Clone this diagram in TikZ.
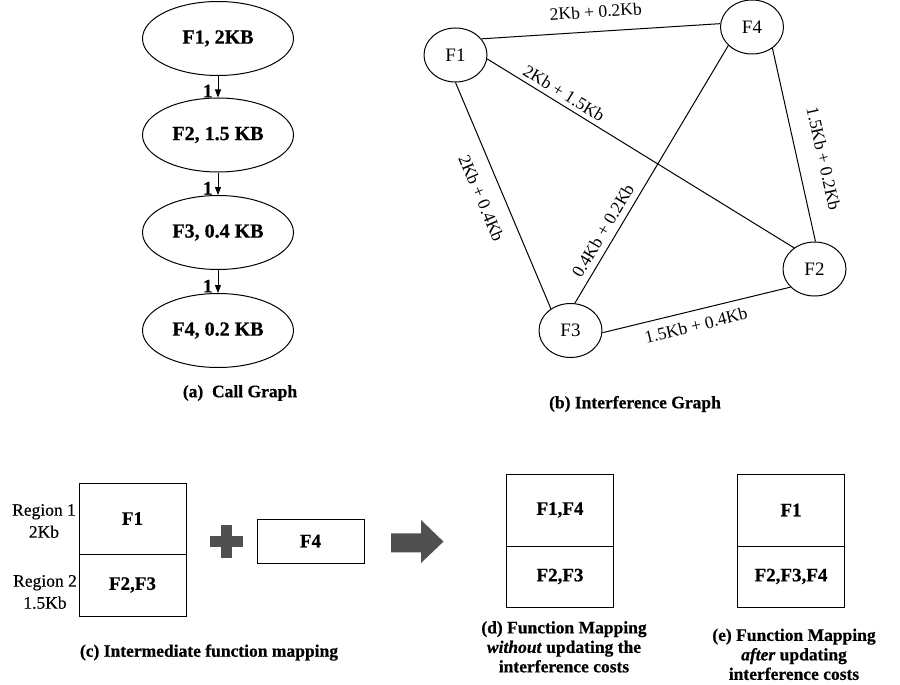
\documentclass[tikz,border=0pt]{standalone}
\usepackage{fontspec}
\setmainfont{Liberation Serif}
\newfontfamily\heavyfont{Liberation Serif}[UprightFont=* Bold, ItalicFont=* Bold Italic, BoldFont=* Bold, BoldItalicFont=* Bold Italic, FakeBold=0.6]
\newfontfamily\mediumfont{Liberation Serif}[FakeBold=0.35]
\usetikzlibrary{shapes.geometric,arrows.meta}
\definecolor{darkfill}{HTML}{505050}
\begin{document}
\begin{tikzpicture}[x=1pt,y=-1pt,
  cg/.style={ellipse,draw,line width=1pt,minimum width=151pt,minimum height=74pt,inner sep=0pt,font=\fontsize{20}{22}\heavyfont},
  ig/.style={ellipse,draw,line width=1pt,minimum width=63pt,minimum height=54pt,inner sep=0pt,font=\fontsize{19}{22}\selectfont},
  callarrow/.style={line width=1pt,-{Triangle[length=8pt,width=6pt]}},
  clab/.style={inner sep=0pt,font=\fontsize{19}{22}\heavyfont},
  iedge/.style={line width=1pt},
  elab/.style={sloped,inner sep=0pt,font=\fontsize{17.5}{20}\selectfont},
  captext/.style={font=\fontsize{17.5}{19.5}\heavyfont,align=center,inner sep=0pt},
  reglab/.style={font=\fontsize{17.5}{22}\mediumfont,align=center,inner sep=0pt},
  cell/.style={draw,line width=1pt,minimum width=107pt,inner sep=0pt,font=\fontsize{19}{22}\heavyfont},
  shapefill/.style={fill=darkfill}
]
\useasboundingbox (0,0) rectangle (900,685);

% (a) call graph
\node[cg] (c1) at (218,38.5) {F1, 2KB};
\node[cg] (c2) at (218,135) {F2, 1.5 KB};
\node[cg] (c3) at (218,232.5) {F3, 0.4 KB};
\node[cg] (c4) at (218,330.5) {F4, 0.2 KB};
\draw[callarrow] (c1.south) -- node[clab,pos=0.7,left=5pt] {1} (c2.north);
\draw[callarrow] (c2.south) -- node[clab,pos=0.7,left=5pt] {1} (c3.north);
\draw[callarrow] (c3.south) -- node[clab,pos=0.7,left=5pt] {1} (c4.north);
\node[captext] (capa) at (240,393) {(a)\ \ Call Graph};

% (b) interference graph
\node[ig] (g1) at (455.5,55) {F1};
\node[ig] (g4) at (752,27) {F4};
\node[ig] (g2) at (814.5,269) {F2};
\node[ig] (g3) at (570.5,330.5) {F3};
\draw[iedge] (g1.32) -- node[elab,pos=0.484,yshift=20pt] {2Kb + 0.2Kb} (g4.174);
\draw[iedge] (g1.353) -- node[elab,pos=0.232,yshift=11pt] {2Kb + 1.5Kb} (g2.134);
\draw[iedge] (g1.270) -- node[elab,pos=0.475,yshift=-21pt] {2Kb + 0.4Kb} (g3.132);
\draw[iedge] (g3.81) -- node[elab,pos=0.256,yshift=13pt] {0.4Kb + 0.2Kb} (g4.218);
\draw[iedge] (g4.314) -- node[elab,pos=0.6,yshift=26pt] {1.5Kb + 0.2Kb} (g2.88);
\draw[iedge] (g3.356) -- node[elab,pos=0.479,yshift=-15pt] {1.5Kb + 0.4Kb} (g2.217);
\node[captext] (capb) at (635,404) {(b) Interference Graph};

% (c) intermediate mapping
\node[cell,minimum height=71pt] (r1) at (132.5,518.5) {F1};
\node[cell,minimum height=62pt] (r2) at (132.5,585) {F2,F3};
\node[reglab] (l1) at (44,521) {Region 1\\2Kb};
\node[reglab] (l2) at (45,592) {Region 2\\1.5Kb};
\fill[shapefill] (221,525) rectangle (232,558);
\fill[shapefill] (210,535.5) rectangle (243,546.5);
\node[cell,minimum height=44pt] (f4) at (310.5,541) {F4};
\fill[shapefill] (391,533.3) -- (421,533.3) -- (421,520) -- (443.5,541.6) -- (421,563) -- (421,552.3) -- (391,552.3) -- cycle;
\node[captext] (capc) at (209,652.5) {(c) Intermediate function mapping};

% (d)
\node[cell,minimum height=72pt] (d1) at (560,510) {F1,F4};
\node[cell,minimum height=61pt] (d2) at (560,576.5) {F2,F3};
\node[captext,anchor=north] (capd) at (564,621) {(d) Function Mapping\\\textit{without} updating the\\interference costs};

% (e)
\node[cell,minimum height=72pt] (e1) at (791,510) {F1};
\node[cell,minimum height=61pt] (e2) at (791,576.5) {F2,F3,F4};
\node[captext,anchor=north] (cape) at (794,628.5) {(e) Function Mapping\\\textit{after} updating\\interference costs};
\end{tikzpicture}
\end{document}
